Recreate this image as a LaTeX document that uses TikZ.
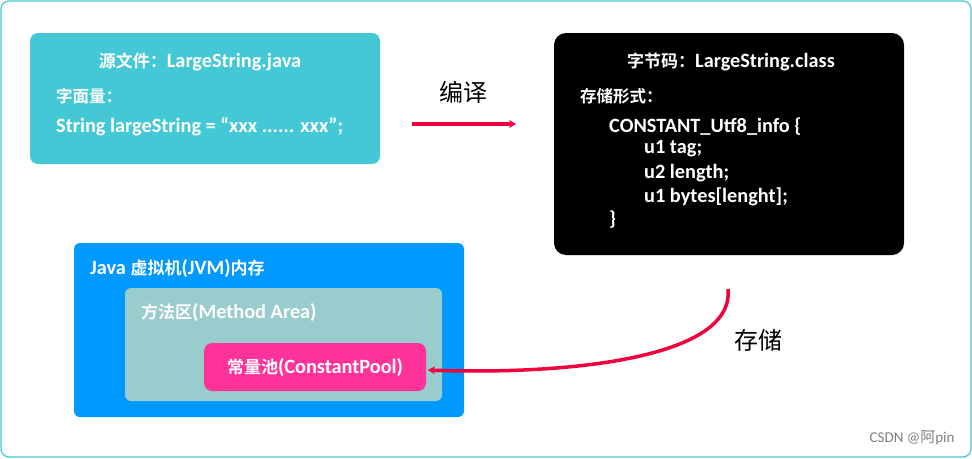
\documentclass[tikz,border=0pt]{standalone}
\usepackage{fontspec}
\setmainfont{Carlito}
\newfontfamily\bsans{Carlito Bold}
\newfontfamily\cjk{Noto Sans CJK SC}
\newfontfamily\bcjkf{Noto Sans CJK SC Bold}
\newcommand\bcjk{\fontsize{17}{20}\bcjkf}
\usetikzlibrary{arrows.meta}
\definecolor{teal1}{HTML}{45C8D5}
\definecolor{jvm}{HTML}{0099FF}
\definecolor{meth}{HTML}{99CCCC}
\definecolor{pool}{HTML}{FF3399}
\definecolor{arr}{HTML}{F0003C}
\tikzset{wt/.style={text=white,font=\fontsize{20.3}{24}\bsans,anchor=west,inner sep=0},
 lbl/.style={font=\fontsize{24}{28}\selectfont\cjk,text=black}}
\begin{document}
\begin{tikzpicture}[x=1pt,y=-1pt]
\useasboundingbox (0,0) rectangle (972,458);
\draw[teal1,line width=1.2pt,rounded corners=8pt] (1,1) rectangle (971,457);
\fill[teal1,rounded corners=8pt] (30,33) rectangle (380,164);
\node[wt,anchor=center] (t1) at (200,62) {{\bcjk 源文件：}LargeString.java};
\node[wt,font=\fontsize{16.5}{18}\bcjkf] (t2) at (56,96) {字面量：};
\node[wt] (t3) at (56,127) {String largeString = “xxx ...... xxx”;};
\fill[black,rounded corners=12pt] (554,33) rectangle (904,255);
\node[wt,anchor=center] (b1) at (731,62) {{\bcjk 字节码：}LargeString.class};
\node[wt,font=\fontsize{16.5}{18}\bcjkf] (b2) at (580,96) {存储形式：};
\node[wt] (b3) at (609,127) {CONSTANT\_Utf8\_info \{};
\node[wt] (b4) at (644,149) {u1 tag;};
\node[wt] (b5) at (644,173) {u2 length;};
\node[wt] (b6) at (644,197) {u1 bytes[lenght];};
\node[wt] (b7) at (609,220) {\}};
\fill[jvm,rounded corners=6pt] (74,243) rectangle (464,417);
\node[wt] (j1) at (90,268) {Java {\bcjk 虚拟机}(JVM){\bcjk 内存}};
\fill[meth,rounded corners=6pt] (125,288) rectangle (442,401);
\node[wt] (m1) at (141,312) {{\bcjk 方法区}(Method Area)};
\fill[pool,rounded corners=8pt] (204,343) rectangle (426,391);
\node[wt,anchor=center] (p1) at (315,367) {{\bcjk 常量池}(ConstantPool)};
\coordinate (a1) at (412,124);
\coordinate (a2) at (516,124);
\draw[arr,line width=3.5pt,-{Stealth[length=7pt,width=8pt]}] (a1) -- (a2);
\node[lbl] (l1) at (463,92) {编译};
\coordinate (c1) at (728,289);
\draw[arr,line width=3.5pt,-{Stealth[length=7pt,width=8pt]}] (c1) .. controls (735,360) and (560,375) .. (428,370);
\node[lbl] (l2) at (758,340) {存储};
\node[font=\fontsize{15}{18}\selectfont,text=gray,anchor=east] (w) at (958,438) {CSDN @{\cjk 阿}pin};
\end{tikzpicture}
\end{document}
